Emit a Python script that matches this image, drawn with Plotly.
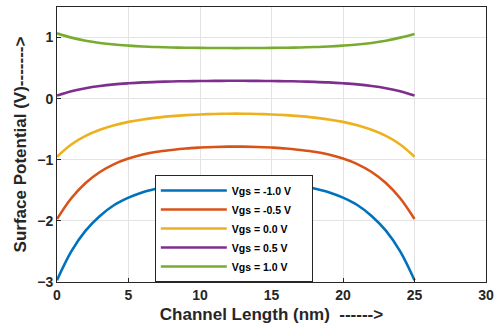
import plotly.graph_objects as go

x_nm = list(range(0, 26))

vgs_m10 = [-2.97, -2.50, -2.16, -1.92, -1.74, -1.62, -1.53, -1.47, -1.42, -1.39, -1.37, -1.36, -1.35,
           -1.35, -1.36, -1.37, -1.39, -1.42, -1.47, -1.53, -1.62, -1.74, -1.92, -2.16, -2.50, -2.97]
vgs_m05 = [-1.97, -1.63, -1.38, -1.20, -1.07, -0.98, -0.915, -0.87, -0.84, -0.815, -0.80, -0.79, -0.785,
           -0.785, -0.79, -0.80, -0.815, -0.84, -0.87, -0.915, -0.98, -1.07, -1.20, -1.38, -1.63, -1.97]
vgs_00 = [-0.95, -0.75, -0.61, -0.51, -0.435, -0.38, -0.34, -0.31, -0.285, -0.27, -0.258, -0.25, -0.246,
          -0.246, -0.25, -0.258, -0.27, -0.285, -0.31, -0.34, -0.38, -0.435, -0.51, -0.61, -0.75, -0.95]
vgs_p05 = [0.05, 0.121, 0.172, 0.208, 0.234, 0.252, 0.266, 0.275, 0.282, 0.286, 0.289, 0.291, 0.292,
           0.292, 0.291, 0.289, 0.286, 0.282, 0.275, 0.266, 0.252, 0.234, 0.208, 0.172, 0.121, 0.05]
vgs_p10 = [1.07, 0.999, 0.948, 0.912, 0.886, 0.868, 0.854, 0.845, 0.838, 0.834, 0.831, 0.829, 0.828,
           0.828, 0.829, 0.831, 0.834, 0.838, 0.845, 0.854, 0.868, 0.886, 0.912, 0.948, 0.999, 1.06]

series_names = ["Vgs = -1.0 V", "Vgs = -0.5 V", "Vgs = 0.0 V", "Vgs = 0.5 V", "Vgs = 1.0 V"]
series_vals = [vgs_m10, vgs_m05, vgs_00, vgs_p05, vgs_p10]
colors = ["#0072BD", "#D95319", "#EDB120", "#7E2F8E", "#77AC30"]

x_ticks = [0, 5, 10, 15, 20, 25, 30]
y_ticks = [-3, -2, -1, 0, 1]

fig = go.Figure()
for i, (name, vals, c) in enumerate(zip(series_names, series_vals, colors)):
    fig.add_trace(go.Scatter(x=x_nm, y=vals, mode="lines", name=name + "\u2003\u2002",
                             legendgroup=str(i),
                             line=dict(color=c, width=2.6, shape="spline", smoothing=1.0)))

font_family = "Liberation Sans, Arial, sans-serif"
axis_common = dict(showline=True, linecolor="#262626", linewidth=1, mirror=True,
                   showgrid=True, gridcolor="#E3E3E3", gridwidth=1, zeroline=False,
                   ticks="inside", ticklen=4, tickcolor="#262626", automargin=False,
                   tickfont=dict(family=font_family, size=14, color="#262626", weight="bold"))

fig.update_layout(
    width=495, height=334,
    margin=dict(l=57, r=9, t=7, b=52),
    paper_bgcolor="white", plot_bgcolor="white",
    font=dict(family=font_family, color="#262626"),
    xaxis=dict(range=[0, 30], tickvals=x_ticks,
               title=dict(text="<b>Channel Length (nm)  ------></b>", font=dict(size=17, color="#262626"), standoff=6),
               **axis_common),
    yaxis=dict(range=[-3, 1.5], tickvals=y_ticks,
               title=dict(text="<b>Surface Potential (V)-------></b>", font=dict(size=17, color="#262626"), standoff=6),
               **axis_common),
    legend=dict(x=0.228, y=0.389, xanchor="left", yanchor="top",
                bgcolor="white", bordercolor="#262626", borderwidth=1,
                font=dict(family=font_family, size=10.5, color="black", weight="bold"),
                tracegroupgap=0, traceorder="normal", itemwidth=66),
    showlegend=True,
)

fig.write_html("out.html",
               config={"displayModeBar": False},
               post_script="document.body.style.margin='0';document.body.style.padding='0';")
